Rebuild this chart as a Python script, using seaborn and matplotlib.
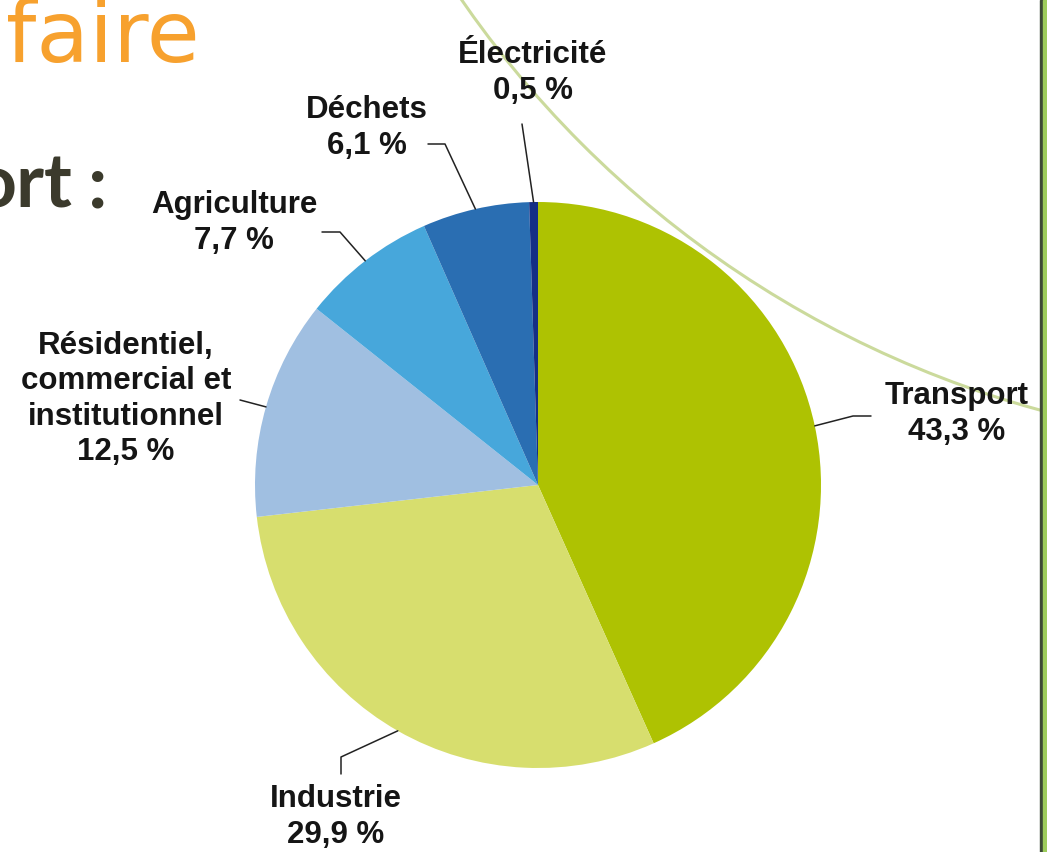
import matplotlib
matplotlib.use("Agg")
import numpy as np
import matplotlib.pyplot as plt
from matplotlib.patches import Circle
import seaborn as sns

# Données du graphique (part des émissions de GES, %)
secteurs = ["Transport", "Industrie", "Résidentiel,\ncommercial et\ninstitutionnel",
            "Agriculture", "Déchets", "Électricité"]
parts = [43.3, 29.9, 12.5, 7.7, 6.1, 0.5]
etiquettes_pct = ["43,3 %", "29,9 %", "12,5 %", "7,7 %", "6,1 %", "0,5 %"]
couleurs = ["#AEC202", "#D7DE6E", "#A0BFE1", "#47A7DB", "#2A6EB2", "#152F85"]

sns.set_theme(style="white")
plt.rcParams['font.family'] = ['Liberation Sans', 'DejaVu Sans']

W, H = 1047, 852
fig = plt.figure(figsize=(W / 100, H / 100), dpi=100)
ax = fig.add_axes([0, 0, 1, 1])

def py(y):
    # coordonnées pixel (origine en haut) -> données
    return H - y

# arc décoratif vert pâle derrière le graphique
arc = Circle((1314, py(-589)), 1036, fill=False, edgecolor="#CBDA9C", lw=2.2, zorder=0)
ax.add_patch(arc)

centre = (538, py(485))
rayon = 283
wedges, _ = ax.pie(parts, colors=couleurs, startangle=90, counterclock=False,
                   center=centre, radius=rayon, wedgeprops=dict(linewidth=0))

# position des étiquettes et des coudes des lignes de rappel (pixels)
pos_texte = [(957, 414), (336, 817), (126, 399), (234, 223), (367, 128), (533, 73)]
coudes = [[(853, 416), (871, 416)],
          [(341, 757), (341, 774)],
          [(240, 400)],
          [(340, 232), (322, 232)],
          [(445, 144), (428, 144)],
          [(522, 124)]]

for w, nom, pct, (tx, ty), pts in zip(wedges, secteurs, etiquettes_pct, pos_texte, coudes):
    ang = np.deg2rad((w.theta1 + w.theta2) / 2)
    x0 = centre[0] + rayon * np.cos(ang)
    y0 = centre[1] + rayon * np.sin(ang)
    xs = [x0] + [p[0] for p in pts]
    ys = [y0] + [py(p[1]) for p in pts]
    ax.plot(xs, ys, color="#222222", lw=1.1, zorder=3)
    ax.text(tx, py(ty), f"{nom}\n{pct}", ha="center", va="center", multialignment="center",
            fontsize=22.5, fontweight="bold", color="#151515", linespacing=1.22, zorder=4)

# restes du titre de la diapositive
ax.text(6, py(62), "faire", fontsize=62, color="#F7A12E", family=['DejaVu Sans'],
        fontweight="normal", ha="left", va="baseline", zorder=5)
ax.text(72, py(208), "ort", fontsize=54, color="#3B3A2C", family=['Lato', 'DejaVu Sans'],
        fontweight="bold", ha="right", va="baseline", zorder=5)
ax.text(88, py(208), ":", fontsize=54, color="#3B3A2C", family=['Lato', 'DejaVu Sans'],
        fontweight="bold", ha="left", va="baseline", zorder=5)

# bordure droite
ax.axvspan(1040, 1042.5, color="#3D4A35", zorder=6)
ax.axvspan(1042.5, W, color="#9DCC5B", zorder=6)

ax.set_xlim(0, W)
ax.set_ylim(0, H)
ax.set_aspect("auto")
ax.axis("off")

fig.savefig("out.png", dpi=100, facecolor="white")
